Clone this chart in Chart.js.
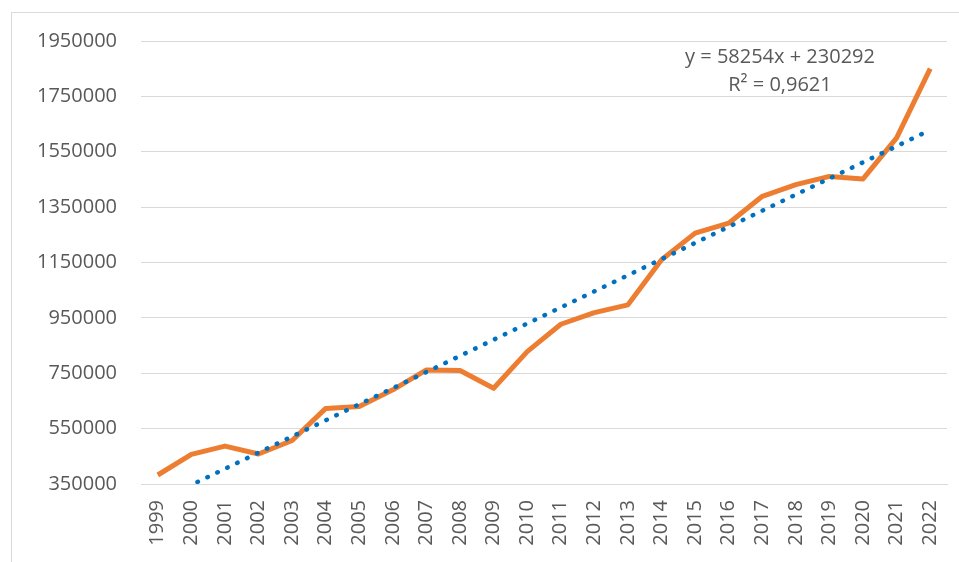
<!DOCTYPE html>
<html>
<head>
<meta charset="utf-8">
<title>Trend chart</title>
<script src="https://cdn.jsdelivr.net/npm/chart.js@4/dist/chart.umd.min.js"></script>
<style>
    html, body { margin: 0; padding: 0; background: #ffffff; overflow: hidden; }
    #wrap { position: relative; width: 959px; height: 562px; }
    #frame { position: absolute; left: 11px; top: 12px; width: 1000px; height: 600px; border: 1px solid #d9d9d9; }
    #chart { position: absolute; left: 0; top: 0; }
</style>
</head>
<body>
<div id="wrap">
    <div id="frame"></div>
    <canvas id="chart" width="959" height="562"></canvas>
</div>
<script>
// Chart data
const years = ["1999", "2000", "2001", "2002", "2003", "2004", "2005", "2006", "2007", "2008", "2009", "2010",
               "2011", "2012", "2013", "2014", "2015", "2016", "2017", "2018", "2019", "2020", "2021", "2022"];
const values = [382500, 457000, 487000, 458500, 507000, 623000, 630000, 690000, 762000, 760000, 696000, 828000,
                927000, 969000, 997000, 1160000, 1256000, 1292000, 1389000, 1431000, 1461000, 1452000, 1600000, 1850000];

// Linear trendline as printed on the chart
const trendSlope = 58254;
const trendIntercept = 230292;
const trendLabel = ["y = 58254x + 230292", "R\u00B2 = 0,9621"];

const yMin = 350000;
const yMax = 1950000;
const yStep = 200000;

const trendValues = years.map((y, i) => trendSlope * (i + 1) + trendIntercept);

const textColor = "#595959";
const gridColor = "#d9d9d9";
const fontFamily = "'Open Sans', sans-serif";

// Draw the trendline equation
const equationPlugin = {
    id: "equation",
    afterDraw(chart) {
        const ctx = chart.ctx;
        ctx.save();
        ctx.fillStyle = textColor;
        ctx.font = "20px " + fontFamily;
        ctx.textAlign = "center";
        ctx.textBaseline = "middle";
        ctx.fillText(trendLabel[0], 780, 57);
        ctx.fillText(trendLabel[1], 780, 85);
        ctx.restore();
    }
};

new Chart(document.getElementById("chart"), {
    type: "line",
    data: {
        labels: years,
        datasets: [
            {
                label: "Trend",
                data: trendValues,
                borderColor: "#0070c0",
                borderWidth: 4.5,
                borderDash: [0.5, 10.5],
                borderCapStyle: "round",
                pointRadius: 0,
                tension: 0,
                order: 0
            },
            {
                label: "Value",
                data: values,
                borderColor: "#ed7d31",
                borderWidth: 5,
                borderJoinStyle: "round",
                pointRadius: 0,
                tension: 0,
                order: 1
            }
        ]
    },
    options: {
        responsive: false,
        animation: false,
        devicePixelRatio: 1,
        layout: { padding: { left: 0, top: 41, right: 12, bottom: 0 } },
        plugins: { legend: { display: false }, tooltip: { enabled: false } },
        scales: {
            x: {
                offset: true,
                grid: { display: false, drawTicks: false },
                border: { display: true, color: gridColor, width: 1 },
                ticks: {
                    color: textColor,
                    font: { family: fontFamily, size: 20 },
                    maxRotation: 90,
                    minRotation: 90,
                    padding: 16,
                    autoSkip: false
                },
                afterFit(scale) {
                    scale.height = 78;
                    scale.paddingLeft = 0;
                    scale.paddingRight = 0;
                }
            },
            y: {
                min: yMin,
                max: yMax,
                grid: { color: gridColor, lineWidth: 1, drawTicks: false },
                border: { display: false },
                ticks: {
                    stepSize: yStep,
                    color: textColor,
                    font: { family: fontFamily, size: 20 },
                    padding: 24,
                    callback: v => String(v)
                },
                afterFit(scale) {
                    scale.width = 141;
                    scale.paddingTop = 0;
                    scale.paddingBottom = 0;
                }
            }
        }
    },
    plugins: [equationPlugin]
});
</script>
</body>
</html>
